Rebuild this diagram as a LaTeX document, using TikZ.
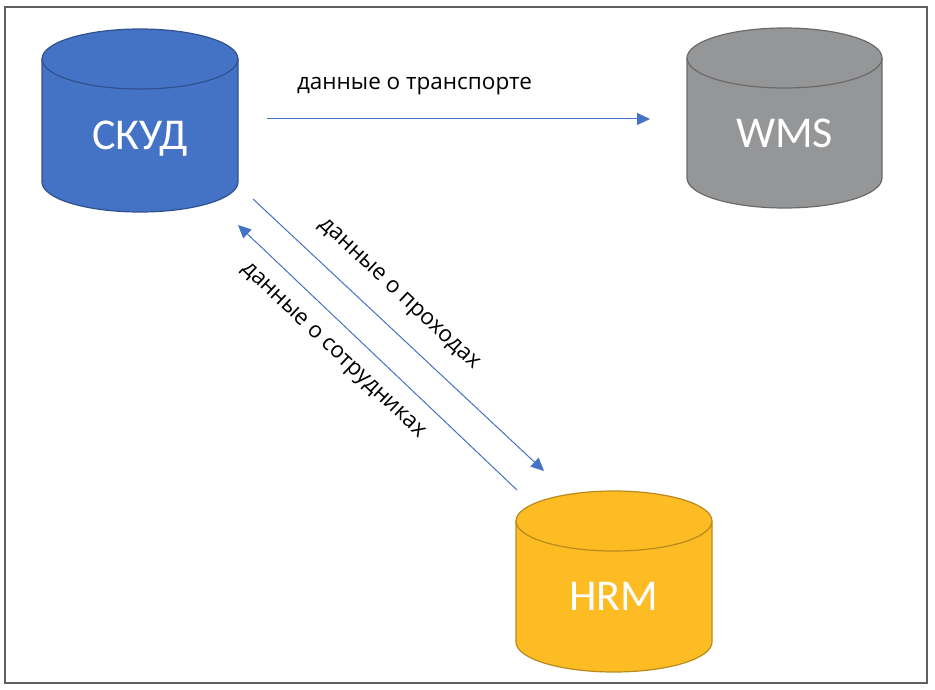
\documentclass[tikz,border=0pt]{standalone}
\usepackage{fontspec}
\setmainfont{Carlito}
\newfontfamily\flowfont{Open Sans}
\usetikzlibrary{arrows.meta}

\definecolor{skudfill}{HTML}{4472C4}
\definecolor{skudedge}{HTML}{2F528F}
\definecolor{wmsfill}{HTML}{959698}
\definecolor{wmsedge}{HTML}{6A6A6A}
\definecolor{hrmfill}{HTML}{FDBC24}
\definecolor{hrmedge}{HTML}{B88A1C}
\definecolor{flowblue}{HTML}{4472C4}
\definecolor{framegray}{HTML}{5F5F5F}

\begin{document}
\begin{tikzpicture}[x=1pt,y=1pt,
    flow/.style={draw=flowblue, line width=1pt, -{Triangle[length=13pt,width=12pt]}},
    dbtext/.style={text=white, font=\fontsize{44}{52}\selectfont, anchor=base},
    flowtext/.style={font=\flowfont\fontsize{22.5}{26}\selectfont}]

        \useasboundingbox (0,0) rectangle (935,-690);

        % Frame
        \draw[framegray, line width=1.5pt] (5,-7) rectangle (927,-683);

        % СКУД drum
        \filldraw[fill=skudfill, draw=skudedge, line width=1.2pt] (42,-59) -- (42,-182)
            arc[start angle=180, end angle=360, x radius=98pt, y radius=30pt] -- (238,-59)
            arc[start angle=0, end angle=180, x radius=98pt, y radius=30pt] -- cycle;
        \draw[skudedge, line width=1.2pt] (42,-59) arc[start angle=180, end angle=360, x radius=98pt, y radius=30pt];

        % WMS drum
        \filldraw[fill=wmsfill, draw=wmsedge, line width=1.2pt] (687,-58) -- (687,-178)
            arc[start angle=180, end angle=360, x radius=97.5pt, y radius=30pt] -- (882,-58)
            arc[start angle=0, end angle=180, x radius=97.5pt, y radius=30pt] -- cycle;
        \draw[wmsedge, line width=1.2pt] (687,-58) arc[start angle=180, end angle=360, x radius=97.5pt, y radius=30pt];

        % HRM drum
        \filldraw[fill=hrmfill, draw=hrmedge, line width=1.2pt] (516,-521) -- (516,-642)
            arc[start angle=180, end angle=360, x radius=98pt, y radius=30pt] -- (712,-521)
            arc[start angle=0, end angle=180, x radius=98pt, y radius=30pt] -- cycle;
        \draw[hrmedge, line width=1.2pt] (516,-521) arc[start angle=180, end angle=360, x radius=98pt, y radius=30pt];

        % Names
        \node[dbtext] (skud) at (140,-150) {СКУД};
        \node[dbtext] (wms) at (784.5,-148) {WMS};
        \node[dbtext] (hrm) at (614,-610) {HRM};

        % Arrow ends
        \coordinate (skudout) at (267,-119);
        \coordinate (wmsin) at (650,-119);
        \coordinate (skudlow) at (253,-199);
        \coordinate (hrmin) at (544,-471);
        \coordinate (hrmout) at (517,-490);
        \coordinate (skudin) at (238,-225);

        % Flows
        \draw[flow] (skudout) -- (wmsin);
        \draw[flow] (skudlow) -- (hrmin);
        \draw[flow] (hrmout) -- (skudin);

        % Flow labels
        \node[flowtext, anchor=base] (transport) at (414.5,-90) {данные о транспорте};
        \node[flowtext, rotate=-43] (passes) at (398,-295) {данные о проходах};
        \node[flowtext, rotate=-43.5] (staff) at (332.5,-351.5) {данные о сотрудниках};
    \end{tikzpicture}
\end{document}
